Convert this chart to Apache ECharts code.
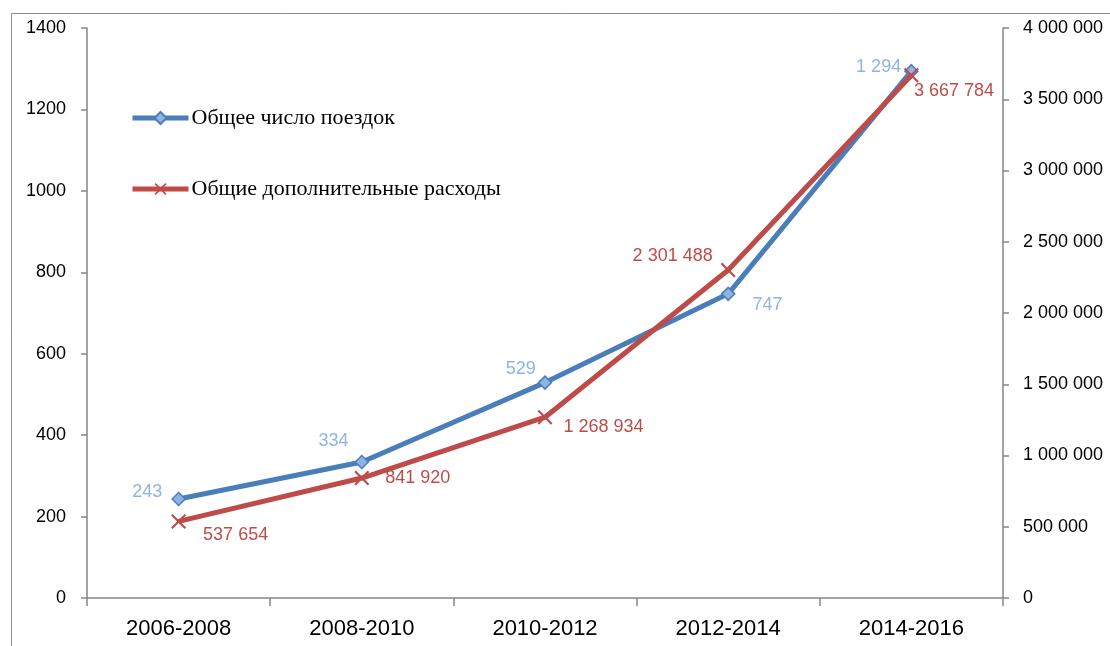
<!DOCTYPE html>
<html>
<head>
<meta charset="utf-8">
<script src="https://cdn.jsdelivr.net/npm/echarts@6/dist/echarts.min.js"></script>
<style>
html,body{margin:0;padding:0;background:#fff}
#chart{width:1110px;height:646px}
</style>
</head>
<body>
<div id="chart"></div>
<script>
var periods = ['2006-2008', '2008-2010', '2010-2012', '2012-2014', '2014-2016'];
var trips = [243, 334, 529, 747, 1294];
var costs = [537654, 841920, 1268934, 2301488, 3667784];
var tripsName = 'Общее число поездок';
var costsName = 'Общие дополнительные расходы';

// label placement per point, like the original
var tripLbl = [
    {position: 'left', distance: 9, offset: [0, -7]},
    {position: 'left', distance: 6, offset: [0, -21]},
    {position: 'left', distance: 2, offset: [0, -14]},
    {position: 'right', distance: 17, offset: [0, 11]},
    {position: 'left', distance: 3, offset: [0, -4]}
];
var costLbl = [
    {position: 'right', distance: 17, offset: [0, 14]},
    {position: 'right', distance: 16, offset: [0, 0]},
    {position: 'right', distance: 11, offset: [0, 10]},
    {position: 'left', distance: 8, offset: [0, -14]},
    {position: 'right', distance: 0, offset: [-5, 16]}
];

function fmt(v){
    return String(v).replace(/\B(?=(\d{3})+(?!\d))/g, ' ');
}

var gray = '#868686';
var xPath = 'path://M0,2L2,0L10,8L18,0L20,2L12,10L20,18L18,20L10,12L2,20L0,18L8,10Z';
var chart = echarts.init(document.getElementById('chart'));
var option = {
    animation: false,
    textStyle: {fontFamily: 'Liberation Sans'},
    graphic: [{
        type: 'rect',
        left: 9, top: 11,
        shape: {width: 1200, height: 700},
        style: {fill: 'none', stroke: '#8c8c8c', lineWidth: 1},
        silent: true
    }],
    grid: {left: 87, right: 107, top: 28, bottom: 48},
    legend: {
        orient: 'vertical',
        left: 130, top: 107,
        padding: 0,
        itemWidth: 56, itemHeight: 15,
        itemGap: 49,
        data: [tripsName, costsName],
        lineStyle: {width: 5},
        textStyle: {fontFamily: 'Liberation Serif', fontSize: 22, color: '#000', padding: [0, 0, 0, -2]}
    },
    xAxis: {
        type: 'category',
        data: periods,
        boundaryGap: true,
        axisLine: {lineStyle: {color: gray, width: 1.5}},
        axisTick: {show: true, length: 8, lineStyle: {color: gray, width: 1.5}},
        axisLabel: {fontSize: 22, color: '#000', margin: 20}
    },
    yAxis: [{
        type: 'value',
        min: 0, max: 1400, interval: 200,
        splitLine: {show: false},
        axisLine: {show: true, lineStyle: {color: gray, width: 1.5}},
        axisTick: {show: true, length: 6, lineStyle: {color: gray, width: 1.5}},
        axisLabel: {fontSize: 18, color: '#000', margin: 21, formatter: function(v){ return String(v); }}
    }, {
        type: 'value',
        min: 0, max: 4000000, interval: 500000,
        splitLine: {show: false},
        axisLine: {show: true, lineStyle: {color: gray, width: 1.5}},
        axisTick: {show: true, length: 6, lineStyle: {color: gray, width: 1.5}},
        axisLabel: {fontSize: 18, color: '#000', margin: 20, formatter: fmt}
    }],
    series: [{
        name: tripsName,
        type: 'line',
        yAxisIndex: 0,
        symbol: 'diamond',
        symbolSize: 13,
        z: 3,
        lineStyle: {color: '#4A7EBB', width: 5},
        itemStyle: {color: '#8EB4E3', borderColor: '#4A7EBB', borderWidth: 1.5},
        label: {show: true, fontSize: 18, color: '#8EB4E3', formatter: function(p){ return fmt(p.value); }},
        data: trips.map(function(v, i){ return {value: v, label: tripLbl[i]}; })
    }, {
        name: costsName,
        type: 'line',
        yAxisIndex: 1,
        symbol: xPath,
        symbolSize: 15,
        z: 4,
        lineStyle: {color: '#BE4B48', width: 5},
        itemStyle: {color: '#BE4B48'},
        label: {show: true, fontSize: 18, color: '#BE4B48', formatter: function(p){ return fmt(p.value); }},
        data: costs.map(function(v, i){ return {value: v, label: costLbl[i]}; })
    }]
};
chart.setOption(option);
</script>
</body>
</html>
